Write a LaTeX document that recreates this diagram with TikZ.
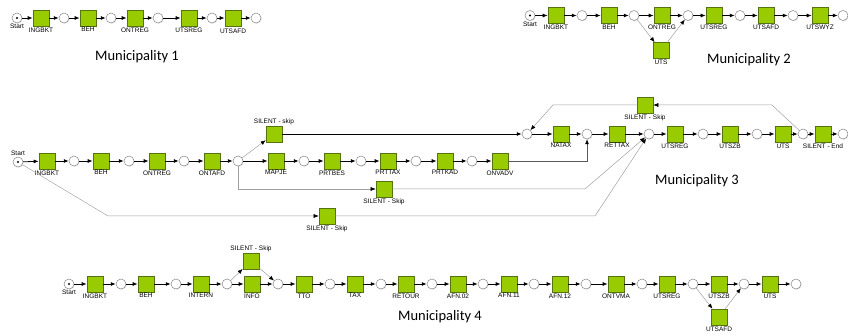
\documentclass[tikz,border=0pt]{standalone}
\usepackage{fontspec}
\newfontfamily\lblfont{Liberation Sans}
\newfontfamily\titlefont{Carlito}
\usetikzlibrary{arrows.meta}
\usetikzlibrary{shadows}
\definecolor{tgreen}{RGB}{153,204,0}
\definecolor{tborder}{RGB}{85,115,15}
\definecolor{placegray}{RGB}{135,135,135}
\definecolor{skipgray}{RGB}{160,160,160}
\definecolor{darkgray}{RGB}{90,90,90}

\begin{document}
\begin{tikzpicture}[x=1pt, y=-1pt,
  place/.style={circle, draw=placegray, fill=white, minimum size=10pt, inner sep=0pt, line width=0.5pt,
    drop shadow={shadow xshift=0.7pt, shadow yshift=-0.7pt, opacity=0.25}},
  startplace/.style={place, path picture={\fill[black] (path picture bounding box.center) circle (1.2pt);}},
  trans/.style={rectangle, draw=tborder, fill=tgreen, minimum size=16pt, inner sep=0pt, line width=0.6pt,
    label distance=1.5pt, drop shadow={shadow xshift=0.8pt, shadow yshift=-0.8pt, opacity=0.25}},
  lbl/.style={font=\lblfont\fontsize{6.5}{7}\selectfont, inner sep=1pt},
  arc/.style={draw=black, line width=0.8pt, -{Latex[length=5pt,width=4pt]}},
  darkarc/.style={draw=darkgray, line width=0.6pt, -{Latex[length=5pt,width=4pt,color=black]}},
  skiparc/.style={draw=skipgray, line width=0.5pt, -{Latex[length=5pt,width=4pt,color=black]}},
  title/.style={font=\titlefont\fontsize{14.5}{16}\selectfont}]
  \useasboundingbox (0,0) rectangle (848,336);

  % Municipality 1
  \node[startplace, label={[lbl]below:Start}] (a-start) at (17,18) {};
  \node[trans, label={[lbl]below:INGBKT}] (a-ingbkt) at (41,18) {};
  \node[place] (a-p1) at (64,18) {};
  \node[trans, label={[lbl]below:BEH}] (a-beh) at (88,18) {};
  \node[place] (a-p2) at (111,18) {};
  \node[trans, label={[lbl]below:ONTREG}] (a-ontreg) at (135,18) {};
  \node[place] (a-p3) at (158,18) {};
  \node[trans, label={[lbl]below:UTSREG}] (a-utsreg) at (189,18) {};
  \node[place] (a-p4) at (212,18) {};
  \node[trans, label={[lbl,yshift=-1pt]below:UTSAFD}] (a-utsafd) at (233,18) {};
  \node[place] (a-p5) at (256,18) {};
  \node[title] (a-title) at (137,57) {Municipality 1};

  \draw[arc] (a-start) -- (a-ingbkt);
  \draw[arc] (a-ingbkt) -- (a-p1);
  \draw[arc] (a-p1) -- (a-beh);
  \draw[arc] (a-beh) -- (a-p2);
  \draw[arc] (a-p2) -- (a-ontreg);
  \draw[arc] (a-ontreg) -- (a-p3);
  \draw[arc] (a-p3) -- (a-utsreg);
  \draw[arc] (a-utsreg) -- (a-p4);
  \draw[arc] (a-p4) -- (a-utsafd);
  \draw[arc] (a-utsafd) -- (a-p5);

  % Municipality 2
  \node[startplace, label={[lbl]below:Start}] (b-start) at (530,15.5) {};
  \node[trans, label={[lbl]below:INGBKT}] (b-ingbkt) at (556,15.5) {};
  \node[place] (b-p1) at (582,15.5) {};
  \node[trans, label={[lbl]below:BEH}] (b-beh) at (609,15.5) {};
  \node[place] (b-p2) at (634,15.5) {};
  \node[trans, label={[lbl]below:ONTREG}] (b-ontreg) at (662,15.5) {};
  \node[trans, label={[lbl]below:UTS}] (b-uts) at (661,50.5) {};
  \node[place] (b-p3) at (688,15.5) {};
  \node[trans, label={[lbl]below:UTSREG}] (b-utsreg) at (714,15.5) {};
  \node[place] (b-p4) at (740,15.5) {};
  \node[trans, label={[lbl]below:UTSAFD}] (b-utsafd) at (766,15.5) {};
  \node[place] (b-p5) at (793,15.5) {};
  \node[trans, label={[lbl]below:UTSWYZ}] (b-utswyz) at (820,15.5) {};
  \node[place] (b-p6) at (843,15.5) {};
  \node[title] (b-title) at (749,60) {Municipality 2};

  \draw[arc] (b-start) -- (b-ingbkt);
  \draw[arc] (b-ingbkt) -- (b-p1);
  \draw[arc] (b-p1) -- (b-beh);
  \draw[arc] (b-beh) -- (b-p2);
  \draw[arc] (b-p2) -- (b-ontreg);
  \draw[skiparc] (b-p2) -- (b-uts);
  \draw[arc] (b-ontreg) -- (b-p3);
  \draw[skiparc] (b-uts) -- (b-p3);
  \draw[arc] (b-p3) -- (b-utsreg);
  \draw[arc] (b-utsreg) -- (b-p4);
  \draw[arc] (b-p4) -- (b-utsafd);
  \draw[arc] (b-utsafd) -- (b-p5);
  \draw[arc] (b-p5) -- (b-utswyz);
  \draw[arc] (b-utswyz) -- (b-p6);

  % Municipality 3
  \node[startplace, label={[lbl]above:Start}] (c-start) at (18,162) {};
  \node[trans, label={[lbl]below:INGBKT}] (c-ingbkt) at (47,161) {};
  \node[place] (c-p1) at (74,161) {};
  \node[trans, label={[lbl]below:BEH}] (c-beh) at (101,161) {};
  \node[place] (c-p2) at (129,161) {};
  \node[trans, label={[lbl]below:ONTREG}] (c-ontreg) at (157,161) {};
  \node[place] (c-p3) at (184,161) {};
  \node[trans, label={[lbl]below:ONTAFD}] (c-ontafd) at (212,161) {};
  \node[place] (c-p4) at (238,161) {};
  \node[trans, label={[lbl]above:SILENT - skip}] (c-skipa) at (274,134) {};
  \node[trans, label={[lbl]below:MAPJE}] (c-mapje) at (276,161) {};
  \node[place] (c-p5) at (304,161) {};
  \node[trans, label={[lbl]below:PRTBES}] (c-prtbes) at (332,161) {};
  \node[place] (c-p6) at (361,161) {};
  \node[trans, label={[lbl]below:PRTTAX}] (c-prttax) at (388,161) {};
  \node[place] (c-p7) at (416,161) {};
  \node[trans, label={[lbl]below:PRTKAD}] (c-prtkad) at (445,161) {};
  \node[place] (c-p8) at (472,161) {};
  \node[trans, label={[lbl]below:ONVADV}] (c-onvadv) at (500,161) {};
  \node[trans, label={[lbl]below:SILENT - Skip}] (c-skipb) at (384,189) {};
  \node[trans, label={[lbl]below:SILENT - Skip}] (c-skipc) at (327,216) {};
  \node[place] (c-p9) at (527,134) {};
  \node[trans, label={[lbl]below:NATAX}] (c-natax) at (561,134) {};
  \node[place] (c-p10) at (587,134) {};
  \node[trans, label={[lbl]below:RETTAX}] (c-rettax) at (617,134) {};
  \node[place] (c-p11) at (649,134) {};
  \node[trans, label={[lbl]below:UTSREG}] (c-utsreg) at (675,134) {};
  \node[place] (c-p12) at (703,134) {};
  \node[trans, label={[lbl]below:UTSZB}] (c-utszb) at (730,134) {};
  \node[place] (c-p13) at (757,134) {};
  \node[trans, label={[lbl]below:UTS}] (c-uts) at (783,134) {};
  \node[place] (c-p14) at (803,134) {};
  \node[trans, label={[lbl]below:SILENT - End}] (c-end) at (823,134) {};
  \node[place] (c-p15) at (843,134) {};
  \node[trans, label={[lbl]below:SILENT - Skip}] (c-skipd) at (645,105) {};
  \node[title] (c-title) at (697,181) {Municipality 3};
  \coordinate (c-kb) at (585,189);
  \coordinate (c-kc1) at (108,216);
  \coordinate (c-kc2) at (595,216);
  \coordinate (c-kd1) at (772,105);
  \coordinate (c-kd2) at (553,105);

  \draw[arc] (c-start) -- (c-ingbkt);
  \draw[arc] (c-ingbkt) -- (c-p1);
  \draw[arc] (c-p1) -- (c-beh);
  \draw[arc] (c-beh) -- (c-p2);
  \draw[arc] (c-p2) -- (c-ontreg);
  \draw[arc] (c-ontreg) -- (c-p3);
  \draw[arc] (c-p3) -- (c-ontafd);
  \draw[arc] (c-ontafd) -- (c-p4);
  \draw[skiparc] (c-p4) -- (c-skipa);
  \draw[arc] (c-skipa) -- (c-p9);
  \draw[arc] (c-p4) -- (c-mapje);
  \draw[arc] (c-mapje) -- (c-p5);
  \draw[arc] (c-p5) -- (c-prtbes);
  \draw[arc] (c-prtbes) -- (c-p6);
  \draw[arc] (c-p6) -- (c-prttax);
  \draw[arc] (c-prttax) -- (c-p7);
  \draw[arc] (c-p7) -- (c-prtkad);
  \draw[arc] (c-prtkad) -- (c-p8);
  \draw[arc] (c-p8) -- (c-onvadv);
  \draw[darkarc] (c-onvadv) -| (c-p10);
  \draw[skiparc] (c-p4) |- (c-skipb);
  \draw[skiparc] (c-skipb) -- (c-kb) -- (c-p11);
  \draw[skiparc] (c-start) -- (c-kc1) -- (c-skipc);
  \draw[skiparc] (c-skipc) -- (c-kc2) -- (c-p11);
  \draw[arc] (c-p9) -- (c-natax);
  \draw[arc] (c-natax) -- (c-p10);
  \draw[arc] (c-p10) -- (c-rettax);
  \draw[arc] (c-rettax) -- (c-p11);
  \draw[arc] (c-p11) -- (c-utsreg);
  \draw[arc] (c-utsreg) -- (c-p12);
  \draw[arc] (c-p12) -- (c-utszb);
  \draw[arc] (c-utszb) -- (c-p13);
  \draw[arc] (c-p13) -- (c-uts);
  \draw[arc] (c-uts) -- (c-p14);
  \draw[arc] (c-p14) -- (c-end);
  \draw[arc] (c-end) -- (c-p15);
  \draw[skiparc] (c-p14) -- (c-kd1) -- (c-skipd);
  \draw[skiparc] (c-skipd) -- (c-kd2) -- (c-p9);

  % Municipality 4
  \node[startplace, label={[lbl]below:Start}] (d-start) at (69,284) {};
  \node[trans, label={[lbl]below:INGBKT}] (d-ingbkt) at (95,284) {};
  \node[place] (d-p1) at (121,284) {};
  \node[trans, label={[lbl]below:BEH}] (d-beh) at (146,284) {};
  \node[place] (d-p2) at (176,284) {};
  \node[trans, label={[lbl]below:INTERN}] (d-intern) at (201,284) {};
  \node[place] (d-p3) at (227,284) {};
  \node[trans, label={[lbl]below:INFO}] (d-info) at (252,284) {};
  \node[trans, label={[lbl]above:SILENT - Skip}] (d-skip) at (251,261) {};
  \node[place] (d-p4) at (278,284) {};
  \node[trans, label={[lbl]below:TTO}] (d-tto) at (304,284) {};
  \node[place] (d-p5) at (330,284) {};
  \node[trans, label={[lbl]below:TAX}] (d-tax) at (355,284) {};
  \node[place] (d-p6) at (381,284) {};
  \node[trans, label={[lbl]below:RETOUR}] (d-retour) at (406,284) {};
  \node[place] (d-p7) at (432,284) {};
  \node[trans, label={[lbl]below:AFN.02}] (d-afn02) at (458,284) {};
  \node[place] (d-p8) at (483,284) {};
  \node[trans, label={[lbl]below:AFN.11}] (d-afn11) at (509,284) {};
  \node[place] (d-p9) at (534,284) {};
  \node[trans, label={[lbl]below:AFN.12}] (d-afn12) at (560,284) {};
  \node[place] (d-p10) at (586,284) {};
  \node[trans, label={[lbl]below:ONTVMA}] (d-ontvma) at (616,284) {};
  \node[place] (d-p11) at (642,284) {};
  \node[trans, label={[lbl]below:UTSREG}] (d-utsreg) at (667,284) {};
  \node[place] (d-p12) at (693,284) {};
  \node[trans, label={[lbl]below:UTSZB}] (d-utszb) at (719,284) {};
  \node[trans, label={[lbl]below:UTSAFD}] (d-utsafd) at (719,317) {};
  \node[place] (d-p13) at (744,284) {};
  \node[trans, label={[lbl]below:UTS}] (d-uts) at (770,284) {};
  \node[place] (d-p14) at (796,284) {};
  \node[title] (d-title) at (440,317) {Municipality 4};

  \draw[arc] (d-start) -- (d-ingbkt);
  \draw[arc] (d-ingbkt) -- (d-p1);
  \draw[arc] (d-p1) -- (d-beh);
  \draw[arc] (d-beh) -- (d-p2);
  \draw[arc] (d-p2) -- (d-intern);
  \draw[arc] (d-intern) -- (d-p3);
  \draw[arc] (d-p3) -- (d-info);
  \draw[skiparc] (d-p3) -- (d-skip);
  \draw[arc] (d-info) -- (d-p4);
  \draw[skiparc] (d-skip) -- (d-p4);
  \draw[arc] (d-p4) -- (d-tto);
  \draw[arc] (d-tto) -- (d-p5);
  \draw[arc] (d-p5) -- (d-tax);
  \draw[arc] (d-tax) -- (d-p6);
  \draw[arc] (d-p6) -- (d-retour);
  \draw[arc] (d-retour) -- (d-p7);
  \draw[arc] (d-p7) -- (d-afn02);
  \draw[arc] (d-afn02) -- (d-p8);
  \draw[arc] (d-p8) -- (d-afn11);
  \draw[arc] (d-afn11) -- (d-p9);
  \draw[arc] (d-p9) -- (d-afn12);
  \draw[arc] (d-afn12) -- (d-p10);
  \draw[arc] (d-p10) -- (d-ontvma);
  \draw[arc] (d-ontvma) -- (d-p11);
  \draw[arc] (d-p11) -- (d-utsreg);
  \draw[arc] (d-utsreg) -- (d-p12);
  \draw[arc] (d-p12) -- (d-utszb);
  \draw[skiparc] (d-p12) -- (d-utsafd);
  \draw[arc] (d-utszb) -- (d-p13);
  \draw[skiparc] (d-utsafd) -- (d-p13);
  \draw[arc] (d-p13) -- (d-uts);
  \draw[arc] (d-uts) -- (d-p14);
\end{tikzpicture}
\end{document}
